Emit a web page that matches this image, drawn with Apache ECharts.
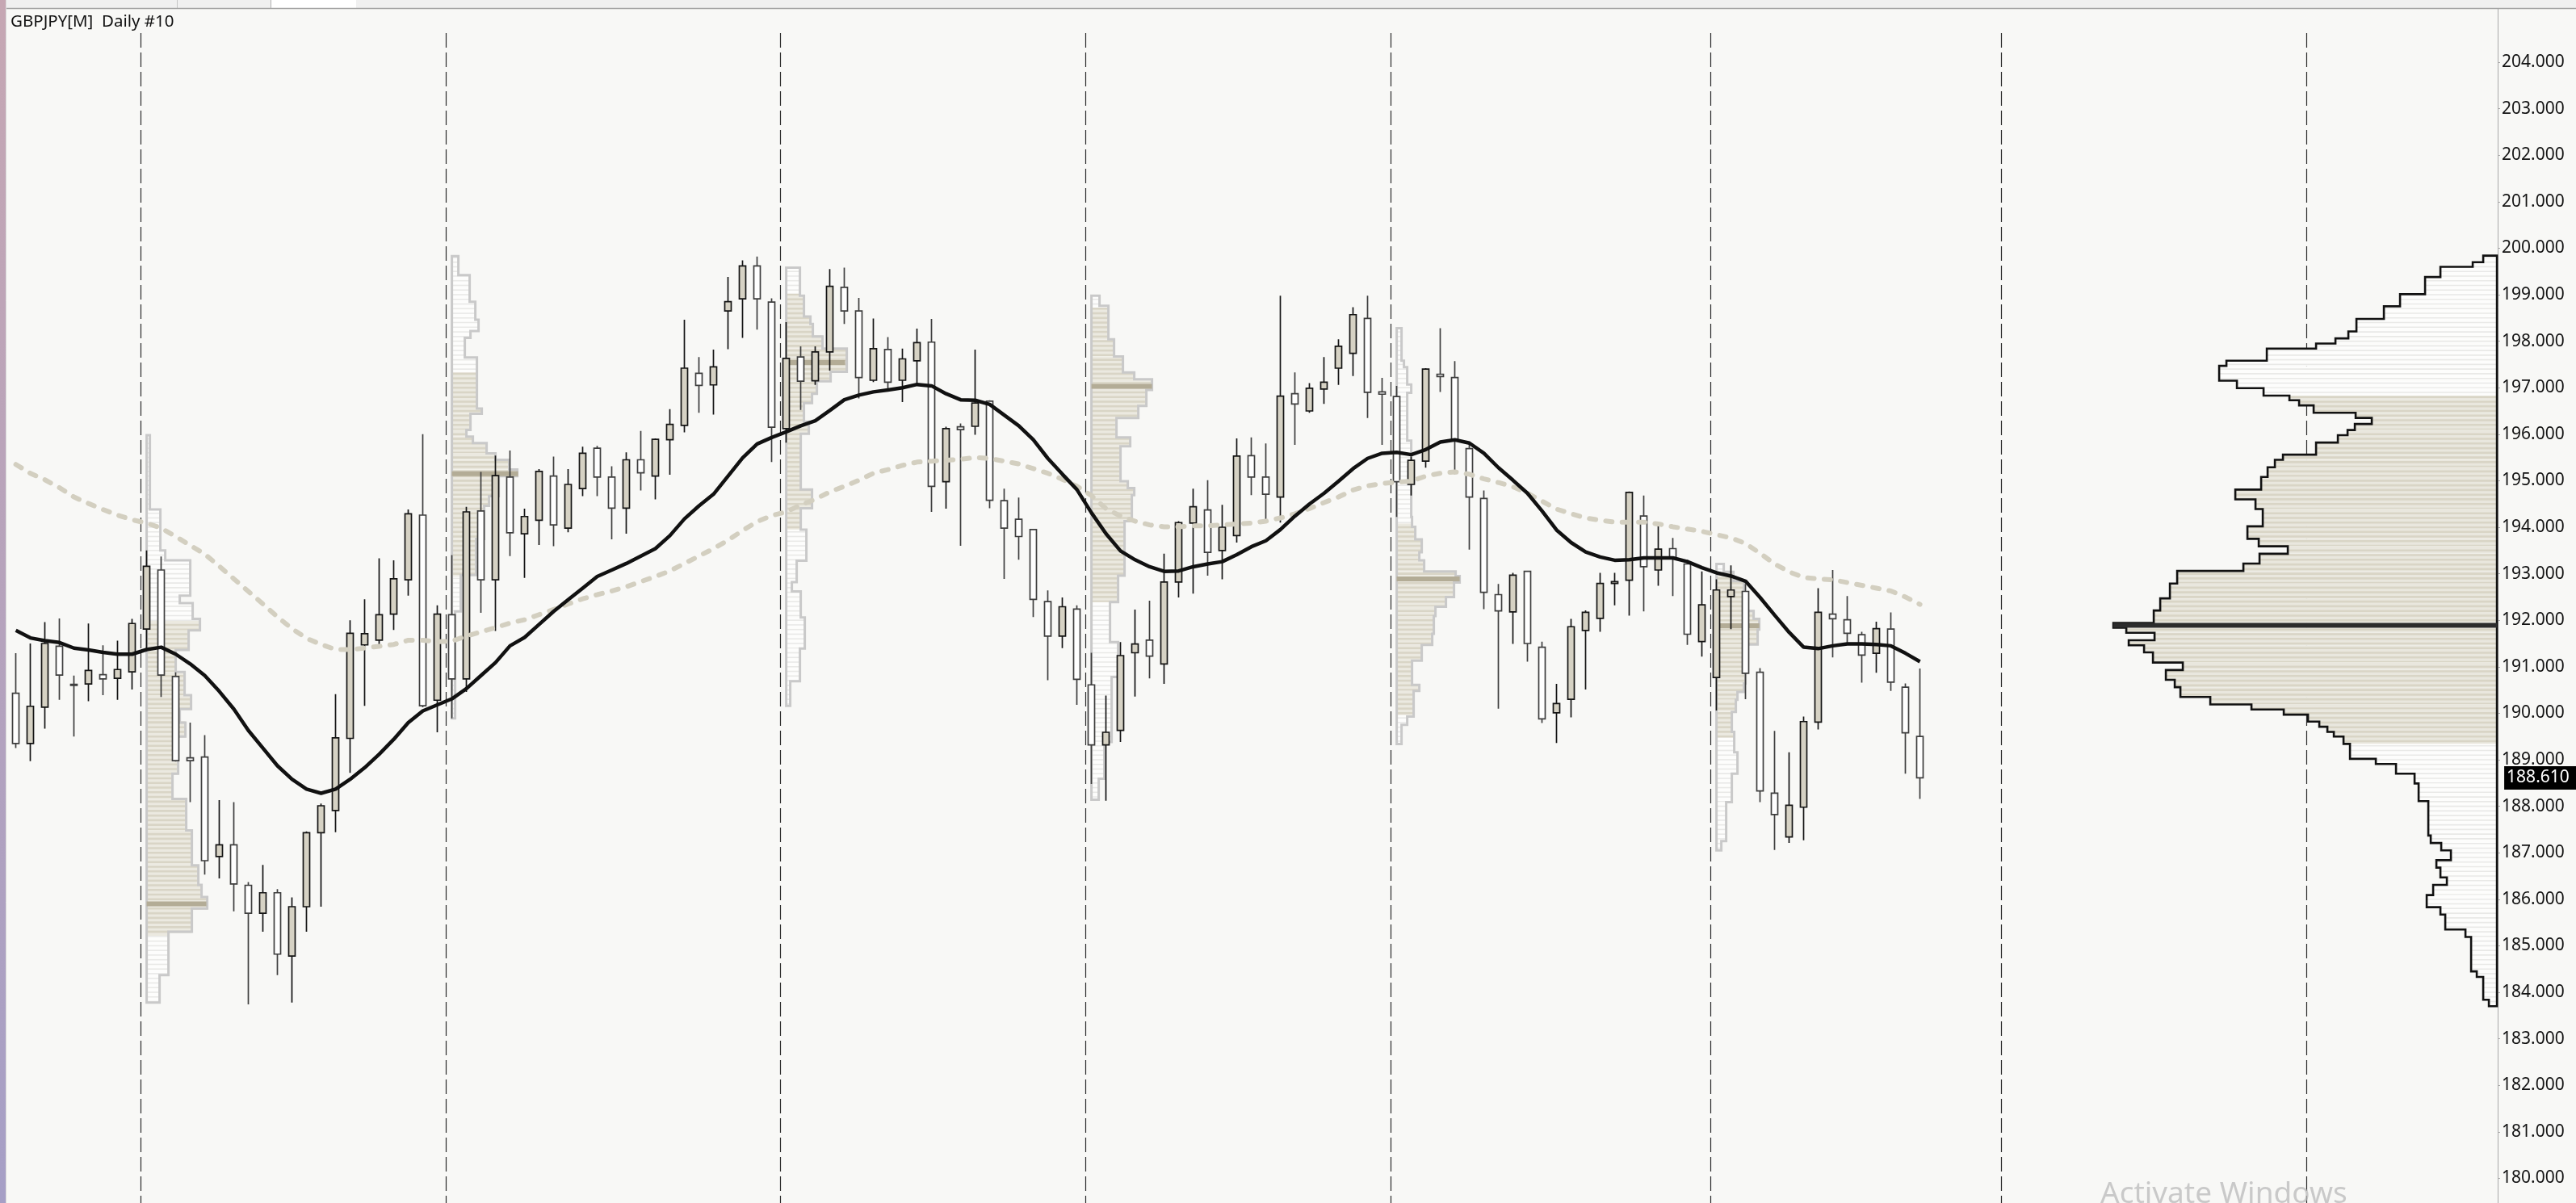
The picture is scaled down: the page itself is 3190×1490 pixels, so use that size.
<!DOCTYPE html>
<html><head><meta charset="utf-8">
<script src="https://cdn.jsdelivr.net/npm/echarts@6/dist/echarts.min.js"></script>
<style>html,body{margin:0;padding:0;background:#f8f8f6;overflow:hidden}#chart{width:3190px;height:1490px}</style>
</head><body><div id="chart"></div>
<script>
// ---------------- DATA ----------------
const slotCount = 171; // daily slots on the time axis (132 candles + empty future space)
const opens = [190.43,189.35,190.13,191.44,190.62,190.63,190.83,190.75,190.89,191.81,193.08,190.79,189.04,189.06,186.92,187.17,186.30,185.70,186.14,184.78,185.84,187.43,187.91,189.46,191.47,191.57,192.13,192.87,194.26,190.28,
192.12,190.74,194.35,192.87,195.08,193.86,194.15,195.10,193.98,194.83,195.70,195.08,194.41,195.45,195.10,195.88,196.19,197.31,197.06,198.65,198.91,199.62,198.84,196.12,
197.66,197.15,197.77,199.16,198.65,197.16,197.82,197.16,197.58,197.98,194.98,196.16,196.17,196.71,194.57,194.17,193.95,192.40,191.66,192.24,190.61,
189.32,189.63,191.30,191.57,191.06,192.82,194.09,194.37,193.50,193.82,195.54,195.08,194.65,196.87,196.50,196.97,197.42,197.74,198.49,196.91,196.81,194.92,
195.42,197.29,197.22,195.69,194.62,192.55,192.18,193.05,191.42,190.01,190.30,191.78,192.04,192.79,192.86,194.24,193.08,193.54,193.21,191.54,190.77,
192.51,192.62,190.88,188.28,187.34,187.98,189.81,192.13,192.01,191.69,191.29,191.81,190.56,189.50];
const highs = [191.29,191.50,191.96,192.04,190.81,191.93,191.46,191.56,192.03,193.50,193.37,190.88,189.80,189.53,188.13,188.09,186.37,186.74,186.22,186.04,187.46,188.06,190.41,192.00,192.45,193.33,193.29,194.38,196.00,192.32,
193.40,194.44,195.19,195.54,195.65,194.40,195.25,195.52,195.25,195.73,195.75,195.31,195.61,196.07,195.91,196.54,198.46,197.66,197.82,199.38,199.74,199.82,198.92,198.41,
197.89,197.89,199.55,199.58,198.93,198.49,198.09,197.84,198.27,198.48,196.16,196.23,197.82,196.73,194.83,194.64,193.96,192.64,192.49,192.32,191.30,
190.38,191.53,192.23,192.42,193.43,194.13,194.83,195.01,194.48,195.91,195.93,195.80,198.98,197.33,197.10,197.66,198.04,198.73,198.98,197.21,197.04,195.52,
197.42,198.28,197.57,195.80,194.79,192.78,193.02,193.06,191.54,190.63,192.03,192.21,193.02,193.02,194.77,194.68,194.05,193.77,193.30,193.05,192.88,
193.18,192.78,190.97,189.62,189.16,189.93,192.69,193.08,192.52,191.75,191.97,192.17,190.64,190.96];
const lows = [189.25,188.97,189.67,190.29,189.50,190.26,190.39,190.29,190.51,191.36,190.35,188.96,188.09,186.53,186.45,185.74,183.74,185.30,184.37,183.78,185.30,185.84,187.44,188.72,190.16,191.40,191.79,192.53,190.13,189.59,
189.89,190.46,192.16,191.77,193.38,192.91,193.62,193.59,193.89,194.67,194.67,193.74,193.86,194.79,194.60,195.13,196.04,196.46,196.42,197.83,198.07,198.25,195.40,195.82,
196.52,197.06,197.37,198.37,196.77,197.12,196.92,196.69,197.07,194.33,194.40,193.60,195.99,194.41,192.89,193.30,192.07,190.71,191.40,190.18,188.48,
188.12,189.38,190.36,190.75,190.63,192.49,192.57,192.96,192.88,193.67,194.69,194.10,194.10,195.77,196.46,196.65,197.06,197.25,196.35,195.77,194.22,194.68,
195.28,196.91,195.14,193.52,192.24,190.10,191.49,191.11,189.79,189.36,189.91,190.51,191.75,192.32,192.10,192.19,192.74,192.52,191.47,191.22,190.06,
191.81,190.30,188.09,187.06,187.21,187.27,189.65,191.20,191.52,190.66,190.87,190.48,188.70,188.16];
const closes = [189.35,190.15,191.50,190.82,190.60,190.92,190.74,190.94,191.93,193.16,190.82,188.98,188.98,186.83,187.17,186.33,185.70,186.14,184.82,185.84,187.43,188.01,189.47,191.72,191.71,192.12,192.89,194.29,190.16,192.13,
190.74,194.33,192.87,195.11,193.88,194.23,195.20,194.05,194.92,195.59,195.08,194.41,195.45,195.17,195.89,196.21,197.42,197.05,197.45,198.85,199.62,198.91,196.15,197.63,
197.14,197.77,199.18,198.65,197.22,197.84,197.12,197.62,197.97,194.88,196.12,196.10,196.67,194.58,193.98,193.80,192.45,191.66,192.29,190.73,189.32,
189.59,191.24,191.49,191.23,192.82,194.10,194.44,193.46,194.00,195.53,195.08,194.71,196.82,196.65,196.99,197.12,197.89,198.57,196.90,196.86,194.98,195.44,
197.40,197.24,195.86,194.65,192.60,192.20,192.97,191.50,189.88,190.21,191.86,192.17,192.79,192.83,194.75,193.15,193.53,193.32,191.70,192.33,192.65,
192.65,190.86,188.33,187.82,188.02,189.82,192.17,192.03,191.72,191.25,191.82,190.67,189.58,188.61];
const maFast = [191.78,191.62,191.56,191.52,191.40,191.36,191.31,191.27,191.27,191.37,191.42,191.27,191.06,190.81,190.47,190.09,189.63,189.25,188.87,188.58,188.37,188.28,188.37,188.58,188.83,189.12,189.44,189.80,190.05,190.18,
190.31,190.53,190.81,191.09,191.45,191.63,191.91,192.19,192.44,192.69,192.94,193.08,193.22,193.38,193.54,193.82,194.18,194.46,194.71,195.10,195.49,195.79,195.93,196.05,
196.18,196.29,196.51,196.74,196.84,196.91,196.95,197.00,197.07,197.04,196.87,196.74,196.73,196.64,196.41,196.18,195.88,195.48,195.14,194.81,194.31,
193.86,193.49,193.30,193.15,193.05,193.06,193.15,193.21,193.26,193.41,193.58,193.71,193.95,194.24,194.50,194.73,194.99,195.26,195.48,195.59,195.61,195.56,
195.67,195.83,195.88,195.81,195.59,195.28,195.01,194.73,194.35,193.94,193.67,193.47,193.36,193.29,193.30,193.34,193.34,193.34,193.26,193.13,193.02,
192.95,192.84,192.49,192.11,191.74,191.42,191.39,191.45,191.49,191.49,191.48,191.45,191.29,191.11];
const maSlow = [195.35,195.16,195.02,194.85,194.65,194.51,194.38,194.26,194.16,194.09,193.98,193.80,193.61,193.42,193.16,192.89,192.62,192.35,192.07,191.82,191.61,191.48,191.37,191.37,191.40,191.44,191.48,191.57,191.57,191.54,
191.55,191.66,191.75,191.84,191.94,192.01,192.12,192.23,192.35,192.46,192.55,192.63,192.72,192.83,192.94,193.06,193.22,193.38,193.54,193.72,193.93,194.12,194.25,194.33,
194.48,194.60,194.76,194.88,195.01,195.16,195.24,195.33,195.40,195.42,195.44,195.46,195.50,195.48,195.42,195.36,195.26,195.16,195.03,194.88,194.68,
194.40,194.24,194.13,194.05,194.01,194.01,194.03,194.03,194.05,194.07,194.09,194.13,194.20,194.29,194.40,194.53,194.65,194.80,194.89,194.94,194.97,194.99,
195.10,195.16,195.19,195.14,195.04,194.96,194.87,194.73,194.56,194.39,194.29,194.20,194.15,194.11,194.11,194.11,194.07,194.01,193.96,193.91,193.84,
193.77,193.65,193.44,193.21,193.04,192.92,192.89,192.87,192.81,192.75,192.69,192.63,192.50,192.34];
const monthStarts = [9,30,53,74,95,117,137,158];
const profileStarts = [9,30,53,74,95,117];
// monthly volume profiles: [priceHigh, priceLow, relativeVolume]
const profile1 = [[195.98,194.38,4],[194.38,193.50,17],[193.50,193.29,23],[193.29,192.53,54],[192.53,192.37,41],[192.37,192.03,57],[192.03,191.78,66],[191.78,191.36,52],[191.36,190.89,36],[190.89,190.39,47],[190.39,190.09,55],[190.09,189.80,41],[189.80,189.50,48],[189.50,188.70,39],[188.70,188.16,32],[188.16,187.48,49],[187.48,186.73,56],[186.73,186.31,64],[186.31,186.05,68],[186.05,185.80,75],[185.80,185.30,56],[185.30,184.37,27],[184.37,183.78,16]];
const profile2 = [[199.83,199.42,8],[199.42,198.85,22],[198.85,198.46,29],[198.46,198.22,33],[198.22,198.07,23],[198.07,197.65,16],[197.65,196.55,31],[196.55,196.44,37],[196.44,196.09,23],[196.09,195.95,18],[195.95,195.81,26],[195.81,195.59,43],[195.59,195.45,54],[195.45,195.24,71],[195.24,195.10,81],[195.10,194.67,58],[194.67,194.46,46],[194.46,193.75,40],[193.75,192.97,30],[192.97,192.19,11],[192.19,189.89,4]];
const profile3 = [[199.58,198.98,17],[198.98,198.53,22],[198.53,198.37,30],[198.37,198.10,33],[198.10,197.84,45],[197.84,197.34,75],[197.34,197.14,55],[197.14,196.87,38],[196.87,196.67,32],[196.67,196.27,22],[196.27,196.01,28],[196.01,194.81,18],[194.81,194.41,32],[194.41,193.95,18],[193.95,193.28,25],[193.28,192.82,13],[192.82,192.62,7],[192.62,192.06,18],[192.06,191.39,23],[191.39,190.69,17],[190.69,190.16,5]];
const profile4 = [[198.98,198.76,10],[198.76,198.04,21],[198.04,197.67,28],[197.67,197.33,39],[197.33,197.18,53],[197.18,196.95,75],[196.95,196.61,68],[196.61,196.35,58],[196.35,195.93,31],[195.93,195.74,48],[195.74,194.99,36],[194.99,194.84,45],[194.84,194.69,53],[194.69,194.13,50],[194.13,193.41,41],[193.41,192.96,41],[192.96,192.39,33],[192.39,191.53,23],[191.53,190.78,33],[190.78,189.38,25],[189.38,188.59,16],[188.59,188.14,9]];
const profile5 = [[198.28,197.58,6],[197.58,197.44,9],[197.44,197.07,13],[197.07,196.89,18],[196.89,195.86,13],[195.86,194.22,18],[194.22,194.01,19],[194.01,193.74,23],[193.74,193.46,31],[193.46,193.29,28],[193.29,193.05,34],[193.05,192.95,73],[192.95,192.81,78],[192.81,192.50,71],[192.50,192.29,61],[192.29,192.09,48],[192.09,191.71,46],[191.71,191.47,44],[191.47,191.13,31],[191.13,190.61,19],[190.61,190.48,28],[190.48,189.93,21],[189.93,189.75,13],[189.75,189.34,6]];
const profile6 = [[193.21,193.04,9],[193.04,192.84,21],[192.84,192.20,34],[192.20,192.03,46],[192.03,191.80,53],[191.80,191.48,51],[191.48,190.64,36],[190.64,190.46,34],[190.46,190.29,26],[190.29,190.03,24],[190.03,189.60,19],[189.60,189.16,22],[189.16,188.70,26],[188.70,188.09,19],[188.09,187.25,12],[187.25,187.05,6]];
const profileRows = [profile1, profile2, profile3, profile4, profile5, profile6];
const profileValueAreas = [[185.21,191.99],[192.94,197.33],[193.95,199.00],[192.39,198.72],[189.96,194.08],[189.48,193.04]];
const profilePOCs = [[185.90,74],[195.15,82],[197.54,73],[197.03,75],[192.89,78],[191.88,53]];
// whole-range volume profile (right side)
const rangeProfile = [[199.84,199.70,17],[199.70,199.60,30],[199.60,199.38,70],[199.38,199.01,89],[199.01,198.75,120],[198.75,198.48,140],[198.48,198.21,174],[198.21,198.06,184],[198.06,197.95,200],[197.95,197.84,224],[197.84,197.58,285],[197.58,197.47,335],[197.47,197.15,344],[197.15,196.99,322],[196.99,196.83,289],[196.83,196.73,257],[196.73,196.62,245],[196.62,196.46,227],[196.46,196.35,175],[196.35,196.22,155],[196.22,196.09,176],[196.09,195.98,185],[195.98,195.82,197],[195.82,195.56,224],[195.56,195.45,265],[195.45,195.29,275],[195.29,195.08,284],[195.08,194.81,292],[194.81,194.60,324],[194.60,194.39,299],[194.39,194.02,290],[194.02,193.75,309],[193.75,193.59,295],[193.59,193.43,259],[193.43,193.22,294],[193.22,193.06,314],[193.06,192.79,396],[192.79,192.47,405],[192.47,192.21,417],[192.21,191.94,425],[191.94,191.84,475],[191.84,191.73,459],[191.73,191.57,424],[191.57,191.46,456],[191.46,191.31,437],[191.31,191.09,426],[191.09,190.93,389],[190.93,190.72,410],[190.72,190.56,399],[190.56,190.35,392],[190.35,190.19,355],[190.19,190.08,304],[190.08,189.97,264],[189.97,189.82,234],[189.82,189.71,220],[189.71,189.60,210],[189.60,189.50,202],[189.50,189.34,190],[189.34,189.02,182],[189.02,188.91,150],[188.91,188.70,125],[188.70,188.49,102],[188.49,188.11,97],[188.11,187.37,85],[187.37,187.21,82],[187.21,187.05,69],[187.05,186.84,57],[186.84,186.68,75],[186.68,186.47,70],[186.47,186.31,62],[186.31,186.09,79],[186.09,185.83,87],[185.83,185.67,70],[185.67,185.35,64],[185.35,185.19,39],[185.19,184.45,32],[184.45,184.33,25],[184.33,183.84,17],[183.84,183.70,10]];
const rangeValueArea = [189.34,196.83];
const rangePOC = [191.89,475];
const priceTicks = [180,181,182,183,184,185,186,187,188,189,190,191,192,193,194,195,196,197,198,199,200,201,202,203,204];
const lastPrice = 188.61;
const chartTitle = 'GBPJPY[M]  Daily #10';

// ---------------- CHART ----------------
const categories = Array.from({length: slotCount}, (_, i) => 'D' + i);
const candleData = opens.map((o, i) => [o, closes[i], lows[i], highs[i]]);
const FONT = 'Noto Sans';

function stripeChildren(children, x, w, hi, lo, va, yOf) {
  for (let m = Math.ceil(lo * 10); m <= Math.floor(hi * 10); m++) {
    const p = m / 10;
    const inVA = p >= va[0] && p <= va[1];
    const y = yOf(p);
    children.push({type: 'line', silent: true, shape: {x1: x, y1: y, x2: x + w, y2: y},
      style: {stroke: inVA ? '#d9d5c6' : '#e9e9e7', lineWidth: inVA ? 2.6 : 1.6}});
  }
}

function renderMonthProfile(params, api) {
  const k = params.dataIndex;
  const start = profileStarts[k];
  const rows = profileRows[k], va = profileValueAreas[k], poc = profilePOCs[k];
  const slot = api.size([1, 0])[0];
  const x0 = api.coord([start, 190])[0];
  const yOf = p => api.coord([start, p])[1];
  const volPx = v => v * slot / 18;
  const children = [];
  rows.forEach(([hi, lo, v]) => {
    const w = volPx(v), yT = yOf(hi), yB = yOf(lo);
    children.push({type: 'rect', silent: true, shape: {x: x0, y: yT, width: w, height: yB - yT}, style: {fill: '#fdfdfc'}});
    const a = Math.min(hi, va[1]), b = Math.max(lo, va[0]);
    if (a > b) {
      const ya = yOf(a), yb = yOf(b);
      children.push({type: 'rect', silent: true, shape: {x: x0, y: ya, width: w, height: yb - ya}, style: {fill: '#ebe9e0'}});
    }
    stripeChildren(children, x0, w, hi, lo, va, yOf);
  });
  const pts = [[x0, yOf(rows[0][0])]];
  rows.forEach(([hi, lo, v]) => { pts.push([x0 + volPx(v), yOf(hi)]); pts.push([x0 + volPx(v), yOf(lo)]); });
  pts.push([x0, yOf(rows[rows.length - 1][1])]);
  children.push({type: 'polygon', silent: true, shape: {points: pts}, style: {fill: 'none', stroke: '#c9c9c9', lineWidth: 3, lineJoin: 'miter'}});
  const yp = yOf(poc[0]);
  children.push({type: 'line', silent: true, shape: {x1: x0, y1: yp, x2: x0 + volPx(poc[1]), y2: yp}, style: {stroke: '#b3ac96', lineWidth: 6}});
  return {type: 'group', children};
}

function renderRangeProfile(params, api) {
  const cs = params.coordSys;
  const slot = api.size([1, 0])[0];
  const xR = cs.x + cs.width + 3.5;
  const yOf = p => api.coord([0, p])[1];
  const volPx = v => v * slot / 18;
  const va = rangeValueArea;
  const children = [];
  rangeProfile.forEach(([hi, lo, v]) => {
    const w = volPx(v), yT = yOf(hi), yB = yOf(lo);
    children.push({type: 'rect', silent: true, shape: {x: xR - w, y: yT, width: w, height: yB - yT}, style: {fill: '#fdfdfc'}});
    const a = Math.min(hi, va[1]), b = Math.max(lo, va[0]);
    if (a > b) {
      const ya = yOf(a), yb = yOf(b);
      children.push({type: 'rect', silent: true, shape: {x: xR - w, y: ya, width: w, height: yb - ya}, style: {fill: '#e9e7de'}});
    }
    stripeChildren(children, xR - w, w, hi, lo, va, yOf);
  });
  const pts = [[xR, yOf(rangeProfile[0][0])]];
  rangeProfile.forEach(([hi, lo, v]) => { pts.push([xR - volPx(v), yOf(hi)]); pts.push([xR - volPx(v), yOf(lo)]); });
  pts.push([xR, yOf(rangeProfile[rangeProfile.length - 1][1])]);
  children.push({type: 'polygon', silent: true, shape: {points: pts}, style: {fill: 'none', stroke: '#111111', lineWidth: 2.6, lineJoin: 'miter'}});
  const yp = yOf(rangePOC[0]);
  children.push({type: 'line', silent: true, shape: {x1: xR - volPx(rangePOC[1]), y1: yp, x2: xR, y2: yp}, style: {stroke: '#2c2c2c', lineWidth: 6}});
  return {type: 'group', children};
}

function renderSeparator(params, api) {
  const cs = params.coordSys;
  const slot = api.size([1, 0])[0];
  const x = Math.round(api.coord([api.value(0), 190])[0] - 0.4 * slot) + 0.5;
  return {type: 'line', silent: true, shape: {x1: x, y1: cs.y + 30, x2: x, y2: cs.y + cs.height},
    style: {stroke: '#2a2a2a', lineWidth: 1.2, lineDash: [18, 6]}};
}

function renderLastPrice(params, api) {
  const cs = params.coordSys;
  const y = api.coord([api.value(0), api.value(1)])[1];
  const x = cs.x + cs.width + 12.5;
  return {type: 'group', children: [
    {type: 'rect', silent: true, shape: {x: x, y: y - 14.5, width: 91, height: 29}, style: {fill: '#000000'}},
    {type: 'text', silent: true, style: {text: api.value(1).toFixed(3), x: x + 3, y: y, fill: '#ffffff',
      font: '21px "' + FONT + '"', textAlign: 'left', textVerticalAlign: 'middle'}}
  ]};
}

const chart = echarts.init(document.getElementById('chart'), null, {renderer: 'canvas'});
chart.setOption({
  animation: false,
  backgroundColor: '#f8f8f6',
  grid: {left: 10.6, right: 101.4, top: 11, bottom: 0, containLabel: false, outerBoundsMode: 'none'},
  xAxis: {type: 'category', data: categories, boundaryGap: true, show: false},
  yAxis: {
    type: 'value', position: 'right', min: 179.46875, max: 205.14583, offset: 4.4,
    axisLine: {show: true, lineStyle: {color: '#a9a9a9', width: 1}},
    axisTick: {show: true, length: 3, lineStyle: {color: '#a9a9a9'}, customValues: priceTicks},
    axisLabel: {show: true, customValues: priceTicks, formatter: v => Number(v).toFixed(3),
      fontFamily: FONT, fontSize: 21, color: '#121212', margin: 5},
    splitLine: {show: false}
  },
  series: [
    {type: 'custom', name: 'separators', z: 1, clip: false, renderItem: renderSeparator,
      data: monthStarts.map(s => [s, 190]), silent: true},
    {type: 'custom', name: 'monthProfiles', z: 1, clip: true, renderItem: renderMonthProfile,
      data: profileStarts.map(s => [s, 190]), silent: true},
    {type: 'custom', name: 'rangeProfile', z: 1, clip: false, renderItem: renderRangeProfile,
      data: [[slotCount - 1, 190]], silent: true},
    {type: 'candlestick', name: 'GBPJPY', z: 3, data: candleData, barWidth: 8,
      itemStyle: {color: '#d6d2c4', color0: '#ffffff', borderColor: '#141414', borderColor0: '#3e3e3e', borderColorDoji: '#3e3e3e', borderWidth: 1.7}},
    {type: 'line', name: 'maSlow', z: 4, data: maSlow, symbol: 'none', showSymbol: false, silent: true,
      lineStyle: {color: '#d3cfc0', width: 6, type: [8, 12.4], cap: 'round'}},
    {type: 'line', name: 'maFast', z: 5, data: maFast, symbol: 'none', showSymbol: false, silent: true,
      lineStyle: {color: '#111111', width: 4.5}},
    {type: 'custom', name: 'lastPrice', z: 10, clip: false, renderItem: renderLastPrice,
      data: [[opens.length - 1, lastPrice]], silent: true}
  ],
  graphic: [
    {type: 'rect', silent: true, z: 100, shape: {x: 0, y: 0, width: 3190, height: 10}, style: {fill: '#f0f0f0'}},
    {type: 'rect', silent: true, z: 100, shape: {x: 336, y: 0, width: 105, height: 10}, style: {fill: '#ffffff'}},
    {type: 'line', silent: true, z: 101, shape: {x1: 219.5, y1: 0, x2: 219.5, y2: 10}, style: {stroke: '#c4c4c4', lineWidth: 1}},
    {type: 'line', silent: true, z: 101, shape: {x1: 335.5, y1: 0, x2: 335.5, y2: 10}, style: {stroke: '#b0b0b0', lineWidth: 1}},
    {type: 'line', silent: true, z: 101, shape: {x1: 7, y1: 10.5, x2: 3190, y2: 10.5}, style: {stroke: '#a3a3a3', lineWidth: 1.4}},
    {type: 'rect', silent: true, z: 102, shape: {x: 0, y: 0, width: 7, height: 1490},
      style: {fill: new echarts.graphic.LinearGradient(0, 0, 0, 1, [{offset: 0, color: '#c6a7b3'}, {offset: 1, color: '#a69fc6'}])}},
    {type: 'line', silent: true, z: 102, shape: {x1: 7.5, y1: 0, x2: 7.5, y2: 1490}, style: {stroke: '#d9d9d9', lineWidth: 1}},
    {type: 'text', silent: true, z: 103, style: {text: chartTitle, x: 13, y: 27.5, font: '20.5px "' + FONT + '"', fill: '#111111', textVerticalAlign: 'middle'}},
    {type: 'text', silent: true, z: 103, style: {text: 'Activate Windows', x: 2601, y: 1461, font: '37px "' + FONT + '"', fill: 'rgba(185,185,185,0.75)', textVerticalAlign: 'top'}}
  ]
});
</script>
</body></html>
